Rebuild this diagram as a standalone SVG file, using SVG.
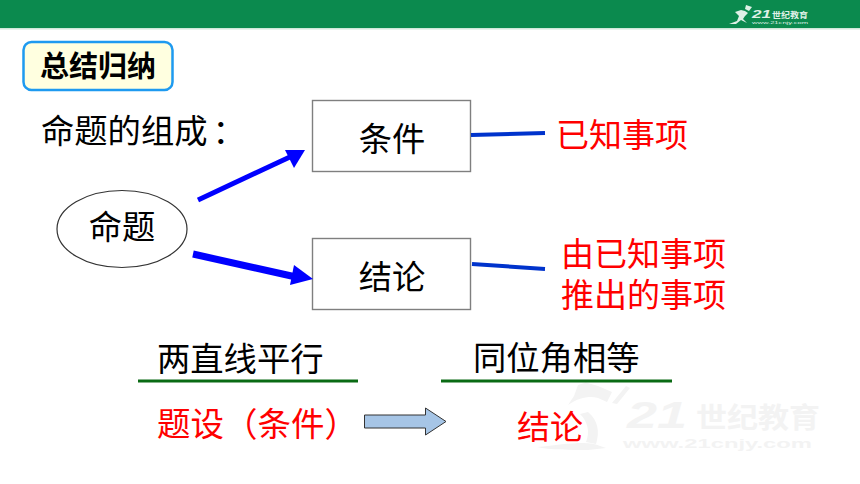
<svg xmlns="http://www.w3.org/2000/svg" width="860" height="484" viewBox="0 0 860 484">
<style>
text{font-family:"Noto Sans CJK SC","Liberation Sans",sans-serif}
.k{fill:#000;font-size:33.300px}
.r{fill:#f00;font-size:33px}
.box{fill:#fff;stroke:#7f7f7f;stroke-width:1.400}
.c{stroke:#00f;fill:none}
.g{stroke:#0a6b14;stroke-width:3}
.wm{fill:#f3f3f3}
.lg{fill:#dff0e6}
.lat{font-family:"Liberation Sans",sans-serif}
</style>
<rect x="0" y="0" width="860" height="28" fill="#0b8a4e"/>
<rect x="0" y="28" width="860" height="1.500" fill="#cfe8da"/>
<g id="logo">
<path d="M729 24 L737 21 L739 16 L735 12 L741 10 L745 11 L748 13 L745 16 L743 19 L747 23 L741 20 L736 24Z" class="lg"/>
<path d="M746 5 L752 7 L749 11 L745 9Z" class="lg"/>
<text x="752" y="18" font-size="11" font-weight="700" font-style="italic" class="lg lat" textLength="19" lengthAdjust="spacingAndGlyphs">21</text>
<text x="772" y="17.500" font-size="8" font-weight="700" class="lg" textLength="36" lengthAdjust="spacingAndGlyphs">世纪教育</text>
<text x="752" y="23.800" font-size="3.500" class="lg lat" textLength="56" lengthAdjust="spacingAndGlyphs">www.21cnjy.com</text>
</g>
<g id="watermark">
<path d="M537 447 C565 444 590 440 600 446 L606 448 L588 450 C570 450 550 450 537 447Z" class="wm"/>
<path d="M568 405 C580 397 590 396 598 398 L607 402 L612 392 L598 386 L584 382 L600 378 L578 385 L574 396Z" class="wm"/>
<path d="M588 412 C598 420 600 432 596 444 L586 442 C590 432 588 422 580 414Z" class="wm"/>
<path d="M612 403 L626 386 L630 388 L617 404Z" class="wm"/>
<text x="627" y="428" font-size="36" font-weight="700" font-style="italic" class="wm lat" textLength="60" lengthAdjust="spacingAndGlyphs">21</text>
<text x="696" y="428" font-size="28" font-weight="700" class="wm" textLength="124" lengthAdjust="spacingAndGlyphs">世纪教育</text>
<text x="623" y="448" font-size="13" font-weight="700" class="wm lat" textLength="189" lengthAdjust="spacingAndGlyphs">www.21cnjy.com</text>
</g>
<g id="title">
<rect x="23.500" y="42" width="149" height="48" rx="8" fill="#ffffe0" stroke="#1e9af0" stroke-width="2.500"/>
<text x="40" y="77" font-size="29" font-weight="700" fill="#000">总结归纳</text>
</g>
<text x="41" y="143" class="k">命题的组成<tspan dx="5">：</tspan></text>
<g id="node-proposition">
<ellipse cx="122" cy="229" rx="65" ry="38.500" fill="#fff" stroke="#333" stroke-width="1.200"/>
<text x="122" y="239" class="k" text-anchor="middle">命题</text>
</g>
<g id="node-condition">
<rect x="312.500" y="100.500" width="158" height="71" class="box"/>
<text x="392" y="151" class="k" text-anchor="middle">条件</text>
</g>
<g id="node-conclusion">
<rect x="312.500" y="238.500" width="158" height="71" class="box"/>
<text x="392" y="289" class="k" text-anchor="middle">结论</text>
</g>
<g id="connectors">
<path class="c" stroke-width="5" d="M198 200 L292 156"/>
<path d="M305 150 L285 150 L294 168Z" fill="#00f"/>
<path class="c" stroke-width="7" d="M193 254 L296 277"/>
<path d="M313 279 L294 265 L290 285Z" fill="#00f"/>
<path class="c" stroke-width="4" style="stroke:#0033cc" d="M471 135 L545 133"/>
<path class="c" stroke-width="4" style="stroke:#0033cc" d="M472 264 L545 269"/>
</g>
<text x="556" y="147" class="r">已知事项</text>
<text x="561" y="266" class="r">由已知事项</text>
<text x="561" y="307" class="r">推出的事项</text>
<text x="157" y="371" class="k">两直线平行</text>
<path class="g" d="M138 381 H358"/>
<text x="473" y="370" class="k">同位角相等</text>
<path class="g" d="M441 381 H672"/>
<text x="157" y="436" class="r" style="font-size:33.500px">题设（条件）</text>
<g id="block-arrow">
<path d="M364.500 415 H425.500 V408 L446 421.500 L425.500 435 V428 H364.500Z" fill="#a6c5e6" stroke="#333" stroke-width="1"/>
</g>
<text x="517" y="439" class="r">结论</text>
</svg>
